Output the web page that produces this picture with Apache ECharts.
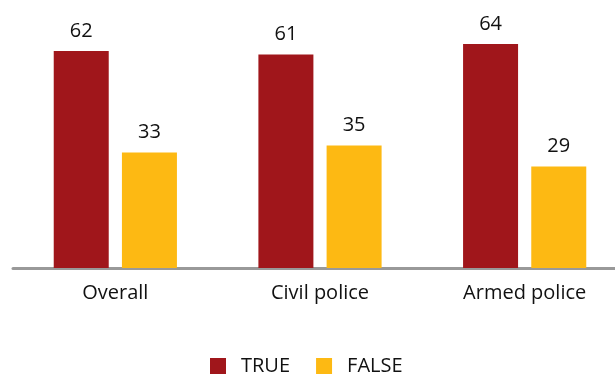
<!DOCTYPE html>
<html><head><meta charset="utf-8">
<script src="https://cdn.jsdelivr.net/npm/echarts@6/dist/echarts.min.js"></script>
<style>html,body{margin:0;padding:0;background:#fff;overflow:hidden}#c{width:630px;height:376px}</style>
</head><body><div id="c"></div>
<script>
const categories = ['Overall', 'Civil police', 'Armed police'];
const trueValues = [62, 61, 64];
const falseValues = [33, 35, 29];
const seriesNames = ['TRUE', 'FALSE'];

const chart = echarts.init(document.getElementById('c'));
const font = 'Open Sans';
chart.setOption({
  animation: false,
  grid: { left: 13, right: 3, top: 23, bottom: 108 },
  legend: {
    data: seriesNames, left: 205, bottom: -5, icon: 'rect', itemWidth: 16, itemHeight: 16,
    itemGap: 26,
    textStyle: { fontFamily: font, fontSize: 20, color: '#111', padding: [0, 0, 0, 10] }
  },
  xAxis: {
    type: 'category', data: categories,
    axisLine: { lineStyle: { color: '#999', width: 3 } },
    axisTick: { show: false },
    axisLabel: { fontFamily: font, fontSize: 20, color: '#111', margin: 15 }
  },
  yAxis: { type: 'value', min: 0, max: 70, show: false, splitLine: { show: false } },
  series: [
    { name: seriesNames[0], type: 'bar', data: trueValues, barWidth: 55, barGap: '24%',
      itemStyle: { color: '#A0161B' },
      label: { show: true, position: 'top', distance: 10, fontFamily: font, fontSize: 20, color: '#111' } },
    { name: seriesNames[1], type: 'bar', data: falseValues, barWidth: 55,
      itemStyle: { color: '#FDB913' },
      label: { show: true, position: 'top', distance: 10, fontFamily: font, fontSize: 20, color: '#111' } }
  ]
});
</script></body></html>
